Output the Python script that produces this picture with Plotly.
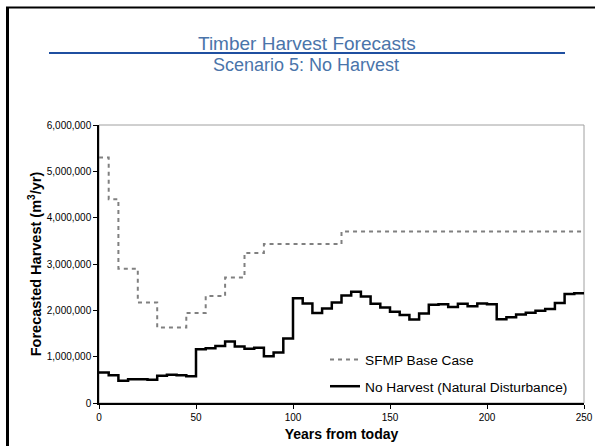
import plotly.graph_objects as go

# Five-year planning periods (start year of each period)
period_start = list(range(0, 250, 5))
horizon_end = 250

# SFMP base case harvest (m3/yr) per period
sfmp_base = [
    5300000, 4400000, 2900000, 2900000, 2170000, 2170000, 1630000, 1630000, 1630000, 1940000,
    1940000, 2310000, 2310000, 2710000, 2710000, 3240000, 3240000, 3430000, 3430000, 3430000,
    3430000, 3430000, 3430000, 3430000, 3430000, 3700000, 3700000, 3700000, 3700000, 3700000,
    3700000, 3700000, 3700000, 3700000, 3700000, 3700000, 3700000, 3700000, 3700000, 3700000,
    3700000, 3700000, 3700000, 3700000, 3700000, 3700000, 3700000, 3700000, 3700000, 3700000,
]

# No harvest scenario (natural disturbance losses), m3/yr per period
no_harvest = [
    660000, 600000, 480000, 510000, 510000, 500000, 590000, 610000, 600000, 580000,
    1160000, 1180000, 1230000, 1330000, 1220000, 1170000, 1190000, 1010000, 1090000, 1390000,
    2260000, 2150000, 1940000, 2040000, 2170000, 2320000, 2400000, 2300000, 2140000, 2060000,
    1970000, 1900000, 1800000, 1930000, 2120000, 2130000, 2070000, 2140000, 2090000, 2150000,
    2130000, 1810000, 1850000, 1910000, 1950000, 1990000, 2030000, 2160000, 2350000, 2370000,
]

series_names = ["SFMP Base Case", "No Harvest (Natural Disturbance)"]
x_ticks = [0, 50, 100, 150, 200, 250]
y_ticks = [0, 1000000, 2000000, 3000000, 4000000, 5000000, 6000000]


def step_xy(values):
    # extend the last period to the end of the horizon so the step closes at 250
    return period_start + [horizon_end], values + [values[-1]]


fig = go.Figure()

xs, ys = step_xy(sfmp_base)
fig.add_trace(go.Scatter(
    x=xs, y=ys, mode="lines", line_shape="hv", name=series_names[0],
    line=dict(color="#808080", width=2, dash="4px,4px"),
    legendgroup="a",
))
xs, ys = step_xy(no_harvest)
fig.add_trace(go.Scatter(
    x=xs, y=ys, mode="lines", line_shape="hv", name=series_names[1],
    line=dict(color="#000000", width=2.5),
    legendgroup="b",
))

W, H = 596, 447
L, R, T, B = 99, 12, 125, 44
pw, ph = W - L - R, H - T - B


def px_x(p):
    return (p - L) / pw


def px_y(p):
    return (H - B - p) / ph


title_blue = "#4A74AA"
font_main = "Liberation Sans, Arial, sans-serif"

shapes = [
    # plot area border (top/right visible in grey)
    dict(type="rect", xref="paper", yref="paper", x0=0, x1=1, y0=0, y1=1,
         line=dict(color="#A0A0A0", width=1), layer="below"),
    # rule under the heading
    dict(type="line", xref="paper", yref="paper", x0=px_x(49), x1=px_x(565),
         y0=px_y(53), y1=px_y(53), line=dict(color="#1F4FA0", width=2)),
    # slide frame (left and top edges)
    dict(type="line", xref="paper", yref="paper", x0=px_x(7.5), x1=px_x(7.5),
         y0=px_y(7), y1=px_y(446), line=dict(color="#000000", width=3)),
    dict(type="line", xref="paper", yref="paper", x0=px_x(6), x1=px_x(595),
         y0=px_y(7.5), y1=px_y(7.5), line=dict(color="#000000", width=2)),
]

annotations = [
    dict(text="Timber Harvest Forecasts", xref="paper", yref="paper",
         x=px_x(307), y=px_y(43), xanchor="center", yanchor="middle", showarrow=False,
         font=dict(family=font_main, size=19, color=title_blue)),
    dict(text="Scenario 5: No Harvest", xref="paper", yref="paper",
         x=px_x(306), y=px_y(65), xanchor="center", yanchor="middle", showarrow=False,
         font=dict(family=font_main, size=18, color=title_blue)),
]

fig.update_layout(
    width=W, height=H,
    margin=dict(l=L, r=R, t=T, b=B, pad=0, autoexpand=False),
    paper_bgcolor="white", plot_bgcolor="white",
    font=dict(family="Liberation Sans, Arial, sans-serif", color="#000000"),
    shapes=shapes, annotations=annotations,
    showlegend=True,
    legend=dict(
        x=px_x(325), y=px_y(344), xanchor="left", yanchor="top",
        bgcolor="rgba(0,0,0,0)", borderwidth=0,
        font=dict(size=13.7, color="#000000"),
        traceorder="grouped", tracegroupgap=6,
    ),
    xaxis=dict(
        range=[0, 250], tickvals=x_ticks, showgrid=False, zeroline=False,
        showline=True, linecolor="#000000", linewidth=1.5,
        ticks="outside", ticklen=4, tickcolor="#000000", tickwidth=1,
        tickfont=dict(size=10, color="#000000"),
        title=dict(text="<b>Years from today</b>", font=dict(size=14), standoff=7),
    ),
    yaxis=dict(
        range=[0, 6000000], tickvals=y_ticks, tickformat=",d", showgrid=False,
        zeroline=False, showline=True, linecolor="#000000", linewidth=1.5,
        ticks="outside", ticklen=4, tickcolor="#000000", tickwidth=1,
        tickfont=dict(size=10, color="#000000"),
        title=dict(text="<b>Forecasted Harvest (m<sup>3</sup>/yr)</b>",
                   font=dict(size=14.5), standoff=2),
    ),
)

# keep the page exactly the size of the figure (no scrollbars)
page_style = (
    "document.documentElement.style.overflow='hidden';"
    "document.body.style.overflow='hidden';"
    "document.body.style.margin='0';"
)
fig.write_html("out.html", post_script=page_style)
